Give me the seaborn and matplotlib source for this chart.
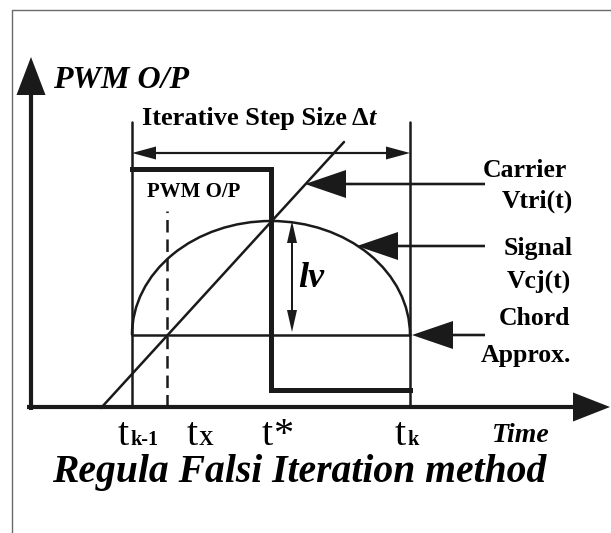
import matplotlib
matplotlib.use("Agg")
import matplotlib.pyplot as plt
import seaborn as sns
import pandas as pd
from matplotlib.patches import Arc

sns.set_theme(style="white")
plt.rcParams['font.family'] = ['Liberation Serif', 'DejaVu Serif']
plt.rcParams['text.color'] = 'black'
plt.rcParams['lines.scale_dashes'] = False

# diagram geometry (pixel-like units, y pointing up)
t_marks = [132, 167, 271, 410]          # t(k-1), tX, t*, t(k)
t_labels = ['t', 't', 't', 't']
t_subs = ['k-1', 'X', '*', 'k']
pwm_t = [132, 271, 271, 410]
pwm_v = [364, 364, 143, 143]
carrier_t = [101, 344]
carrier_v = [125, 391]
chord_v = 198
peak_v = 312
axis_origin = (31, 126)
axis_tips = (610, 476)

# callout arrows: label lines and tip positions
callout_y = [349, 287, 198]
callout_tip = [305, 357, 412]
callout_text = [('Carrier', 567, 356), ('Vtri(t)', 573, 325),
                ('Signal', 573, 278), ('Vcj(t)', 571, 245),
                ('Chord', 570, 208), ('Approx.', 571, 171)]

thin = 1.8

fig = plt.figure(figsize=(6.11, 5.33), dpi=100)
ax = fig.add_axes([0, 0, 1, 1])
ax.set_xlim(0, 611)
ax.set_ylim(0, 533)
ax.axis('off')

# light frame
ax.plot([12, 12, 611], [0, 523, 523], color='#6a6a6a', lw=1)

# axes with arrows
x0, y0 = axis_origin
ax.plot([x0, x0], [123, 440], color='k', lw=3, solid_capstyle='butt')
ax.arrow(x0, 430, 0, axis_tips[1] - 430, width=0, head_width=29, head_length=38,
         length_includes_head=True, color='k', lw=0)
ax.plot([27, 575], [y0, y0], color='k', lw=3, solid_capstyle='butt')
ax.arrow(565, y0, axis_tips[0] - 565, 0, width=0, head_width=29, head_length=37,
         length_includes_head=True, color='k', lw=0)

# step boundaries
for tm in [t_marks[0], t_marks[3]]:
    ax.plot([tm, tm], [y0, 411], color='k', lw=thin)

# step size dimension arrow
mid = (t_marks[0] + t_marks[3]) / 2
for end in [t_marks[0], t_marks[3]]:
    ax.arrow(mid, 380, end - mid, 0, width=2.2, head_width=13, head_length=24,
             length_includes_head=True, color='k', lw=0)

# PWM output
pwm = pd.DataFrame({'t': pwm_t, 'v': pwm_v})
sns.lineplot(data=pwm, x='t', y='v', sort=False, estimator=None, color='k',
             lw=3.6, ax=ax, solid_capstyle='projecting', solid_joinstyle='miter')

# dashed tX line
ax.plot([t_marks[1], t_marks[1]], [y0, 322], color='k', lw=thin, dashes=(9, 5))

# signal arc and chord
ax.add_patch(Arc((t_marks[2], chord_v), t_marks[3] - t_marks[0], 2 * (peak_v - chord_v),
                 theta1=0, theta2=180, color='k', lw=thin))
ax.plot([t_marks[0], t_marks[3]], [chord_v, chord_v], color='k', lw=thin)

# carrier
carrier = pd.DataFrame({'t': carrier_t, 'v': carrier_v})
sns.lineplot(data=carrier, x='t', y='v', color='k', lw=thin, ax=ax)

# lv arrow
for a, b in [(256, peak_v), (256, 201)]:
    ax.arrow(292, a, 0, b - a, width=2, head_width=10, head_length=22,
             length_includes_head=True, color='k', lw=0)
ax.text(298, 246, 'lv', fontsize=26, fontweight='bold', style='italic', va='baseline')

# callouts
for cy, tip in zip(callout_y, callout_tip):
    ax.arrow(485, cy, tip - 485, 0, width=2.6, head_width=28, head_length=41,
             length_includes_head=True, color='k', lw=0)
for s, tx, ty in callout_text:
    ax.text(tx, ty, s, fontsize=18.5, fontweight='bold', ha='right', va='baseline')

# texts
ax.text(53, 445, 'PWM O/P', fontsize=23, fontweight='bold', style='italic', va='baseline')
it = ax.text(142, 403, 'Iterative Step Size \u0394', fontsize=19, fontweight='bold', va='bottom')
ax.annotate('t', xy=(1, 0), xycoords=it, fontsize=19, fontweight='bold', style='italic',
            va='bottom', ha='left')
ax.text(147, 336, 'PWM O/P', fontsize=15, fontweight='bold', va='baseline')

# time axis labels
t_left = [118, 187, 262, 395]
for lab, sub, xl in zip(t_labels, t_subs, t_left):
    ax.text(xl, 88, lab, fontsize=29, va='baseline')
    if sub == '*':
        ax.text(xl + 11, 88, sub, fontsize=29, va='baseline')
    else:
        ax.text(xl + 12, 88, sub, fontsize=14.5, fontweight='bold', va='baseline')
ax.text(492, 91, 'Time', fontsize=20, fontweight='bold', style='italic', va='baseline')

ax.text(52, 51, 'Regula Falsi Iteration method', fontsize=28.5, fontweight='bold',
        style='italic', va='baseline')

fig.savefig('out.png', dpi=100)
